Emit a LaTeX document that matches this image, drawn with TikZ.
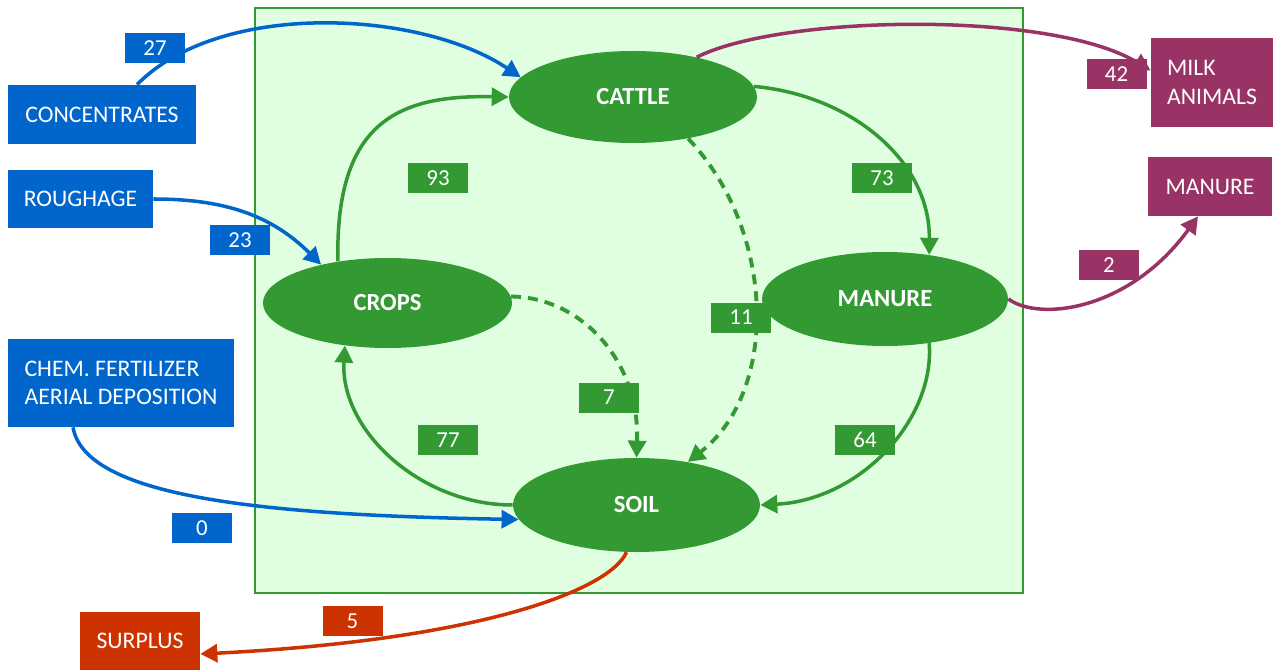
\documentclass[tikz,border=0pt]{standalone}
\usepackage{fontspec}
\setmainfont{Carlito}
\usepackage{xcolor}
\usepackage{tikz}
\usetikzlibrary{shapes.geometric,arrows.meta}
\definecolor{inputcolor}{HTML}{0066CC}
\definecolor{farmcolor}{HTML}{339933}
\definecolor{farmfill}{HTML}{E0FFE0}
\definecolor{outputcolor}{HTML}{993366}
\definecolor{losscolor}{HTML}{CC3300}
\tikzset{
  pool/.style={ellipse, fill=farmcolor, text=white, inner sep=0pt, minimum width=4.96cm, minimum height=1.84cm, font=\fontsize{14}{17}\selectfont\bfseries},
  flowbox/.style={rectangle, text=white, align=left, inner sep=0pt, font=\fontsize{13.5}{16.2}\selectfont},
  flowval/.style={rectangle, text=white, minimum width=1.2cm, minimum height=0.6cm, inner sep=0pt, font=\fontsize{13}{15}\selectfont},
  flow/.style={line width=2pt, -{Triangle[length=0.34cm,width=0.36cm]}},
  minorflow/.style={flow, line width=2.2pt, dash pattern=on 0.2cm off 0.14cm},
}

\begin{document}
\begin{tikzpicture}%
\useasboundingbox (0,0) rectangle (25.58,-13.4);%
\draw[farmcolor, line width=1.1pt, fill=farmfill] (5.1,-0.16) rectangle (20.46,-11.86);%
\node[pool] (cattle) at (12.66,-1.94) {CATTLE};%
\node[pool, minimum width=4.98cm, minimum height=1.8cm] (crops) at (7.75,-6.06) {CROPS};%
\node[pool, minimum width=4.92cm, minimum height=1.88cm] (manure) at (17.7,-5.98) {MANURE};%
\node[pool, minimum width=4.94cm, minimum height=1.88cm] (soil) at (12.73,-10.1) {SOIL};%
\node[flowbox, fill=inputcolor, minimum width=3.76cm, minimum height=1.18cm] (conc) at (2.04,-2.29) {CONCENTRATES};%
\node[flowbox, fill=inputcolor, minimum width=2.9cm, minimum height=1.16cm] (rough) at (1.61,-3.98) {ROUGHAGE};%
\node[flowbox, fill=inputcolor, minimum width=4.52cm, minimum height=1.76cm] (chem) at (2.42,-7.66) {CHEM. FERTILIZER\\AERIAL DEPOSITION};%
\node[flowbox, fill=losscolor, minimum width=2.4cm, minimum height=1.16cm] (surplus) at (2.8,-12.82) {SURPLUS};%
\node[flowbox, fill=outputcolor, minimum width=2.44cm, minimum height=1.78cm] (milk) at (24.24,-1.65) {MILK\\ANIMALS};%
\node[flowbox, fill=outputcolor, minimum width=2.48cm, minimum height=1.18cm] (manurebox) at (24.2,-3.73) {MANURE};%
\draw[flow, inputcolor] ([xshift=0.7cm]conc.north) .. controls (4.4,0) and (8.4,-0.2) .. (cattle.170);%
\draw[flow, inputcolor] (rough.east) to[out=0, in=135] (crops.150);%
\draw[flow, inputcolor] ([xshift=-0.96cm]chem.south) .. controls (1.7,-9.9) and (5.0,-10.3) .. (soil.187);%
\draw[flow, losscolor] (soil.258) .. controls (12.2,-11.8) and (9.6,-12.8) .. ([yshift=-0.26cm]surplus.east);%
\draw[flow, outputcolor] (cattle.32) .. controls (15.6,-0.3) and (21,-0.2) .. ([yshift=0.24cm]milk.west);%
\draw[flow, outputcolor] (manure.east) .. controls (20.8,-6.44) and (22.6,-6.2) .. ([xshift=-0.24cm]manurebox.south);%
\draw[flow, farmcolor] (crops.140) .. controls (6.7,-2.4) and (8.0,-1.9) .. (cattle.west);%
\draw[flow, farmcolor] (cattle.5) .. controls (17.0,-1.9) and (18.6,-3.2) .. (manure.45);%
\draw[flow, farmcolor] (manure.-45) .. controls (18.7,-8.4) and (17.2,-10.0) .. (soil.east);%
\draw[flow, farmcolor] (soil.west) .. controls (8.4,-10.1) and (6.8,-8.6) .. (crops.225);%
\draw[minorflow, farmcolor] (crops.3) .. controls (11.6,-5.94) and (12.8,-7.2) .. (soil.north);%
\draw[minorflow, farmcolor] (cattle.-37) .. controls (15.5,-4.6) and (15.6,-7.8) .. (soil.40);%
\node[flowval, fill=inputcolor] (v27) at (3.1,-0.96) {27};%
\node[flowval, fill=inputcolor] (v23) at (4.8,-4.8) {23};%
\node[flowval, fill=inputcolor] (v0) at (4.04,-10.56) {0};%
\node[flowval, fill=losscolor] (v5) at (7.05,-12.42) {5};%
\node[flowval, fill=outputcolor] (v42) at (22.33,-1.48) {42};%
\node[flowval, fill=outputcolor] (v2) at (22.18,-5.3) {2};%
\node[flowval, fill=farmcolor] (v93) at (8.76,-3.56) {93};%
\node[flowval, fill=farmcolor] (v73) at (17.64,-3.56) {73};%
\node[flowval, fill=farmcolor] (v11) at (14.82,-6.35) {11};%
\node[flowval, fill=farmcolor] (v7) at (12.18,-7.95) {7};%
\node[flowval, fill=farmcolor] (v77) at (8.96,-8.8) {77};%
\node[flowval, fill=farmcolor] (v64) at (17.3,-8.8) {64};%
\end{tikzpicture}
\end{document}
